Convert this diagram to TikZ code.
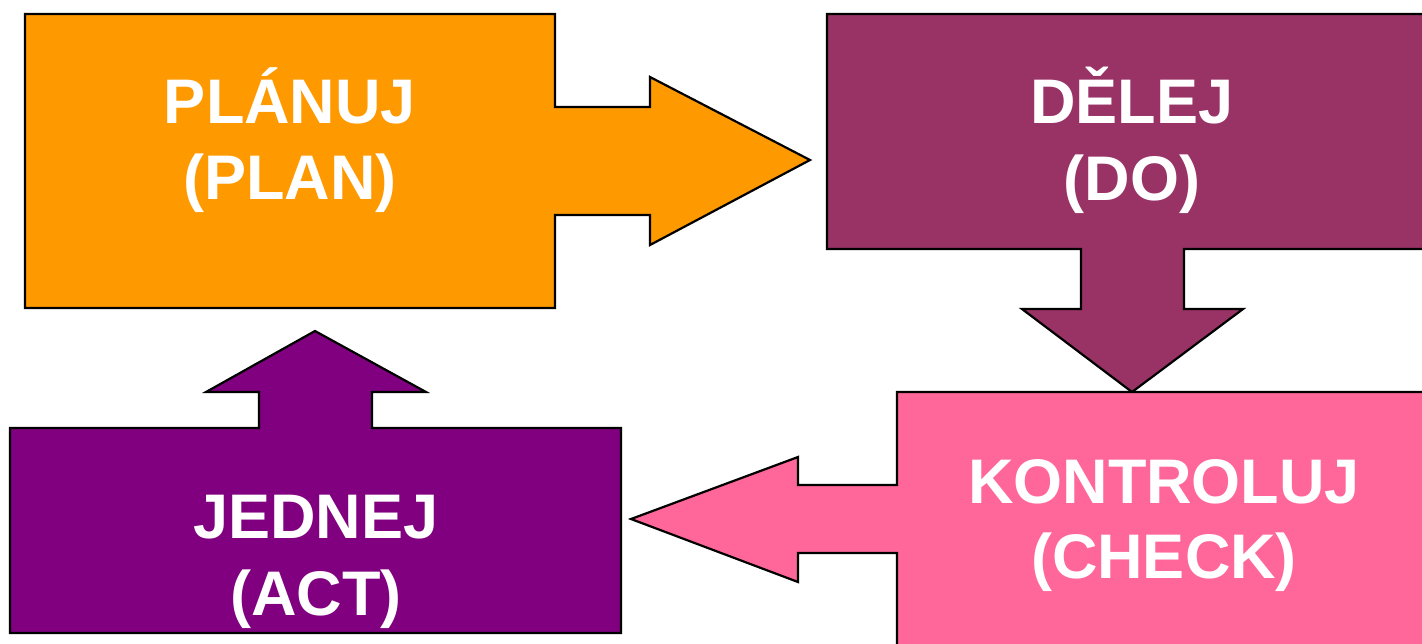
\documentclass[tikz,border=0pt]{standalone}
\usepackage{fontspec}
\setmainfont{Liberation Sans}
\definecolor{planc}{HTML}{FF9900}
\definecolor{doc}{HTML}{993366}
\definecolor{checkc}{HTML}{FF6699}
\definecolor{actc}{HTML}{800080}
\begin{document}
\begin{tikzpicture}[x=0.5pt,y=-0.5pt,
  shapebox/.style={draw=black,line width=1.1pt,line join=miter},
  lbl/.style={text=white,font=\fontsize{31.5}{38}\selectfont\bfseries,anchor=base,inner sep=0pt}]
\useasboundingbox (0,0) rectangle (1422,643);
\clip (0,0) rectangle (1422,643);
% PLAN box with right arrow
\draw[shapebox,fill=planc] (25,14) -- (555,14) -- (555,107) -- (650,107) -- (650,77) -- (810,160) -- (650,245) -- (650,215) -- (555,215) -- (555,308) -- (25,308) -- cycle;
% DO box with down arrow
\draw[shapebox,fill=doc] (827,14) -- (1440,14) -- (1440,249) -- (1184,249) -- (1184,309) -- (1243,309) -- (1132,392) -- (1022,309) -- (1081,309) -- (1081,249) -- (827,249) -- cycle;
% CHECK box with left arrow
\draw[shapebox,fill=checkc] (897,392) -- (1440,392) -- (1440,660) -- (897,660) -- (897,553) -- (798,553) -- (798,582) -- (631,519) -- (798,457) -- (798,485) -- (897,485) -- cycle;
% ACT box with up arrow
\draw[shapebox,fill=actc] (10,428) -- (259,428) -- (259,392) -- (206,392) -- (315,331) -- (426,392) -- (372,392) -- (372,428) -- (621,428) -- (621,633) -- (10,633) -- cycle;
% labels
\node[lbl] (plan1) at (290,123) {PLÁNUJ};
\node[lbl] (plan2) at (290,199) {(PLAN)};
\node[lbl] (do1) at (1132,123) {DĚLEJ};
\node[lbl] (do2) at (1132,200) {(DO)};
\node[lbl] (check1) at (1164,503) {KONTROLUJ};
\node[lbl] (check2) at (1164,578) {(CHECK)};
\node[lbl] (act1) at (316,538) {JEDNEJ};
\node[lbl] (act2) at (316,615) {(ACT)};
\end{tikzpicture}
\end{document}
